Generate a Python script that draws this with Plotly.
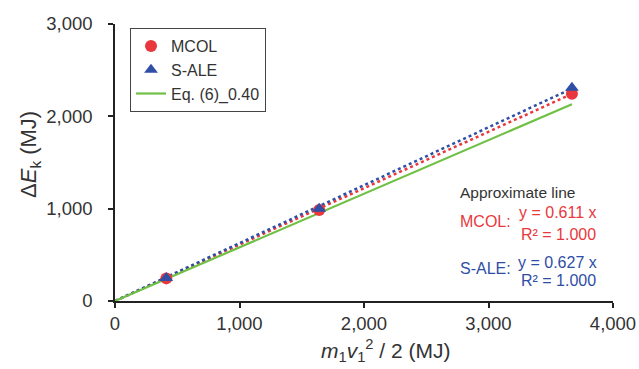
import plotly.graph_objects as go

# Data
x_vals = [412, 1640, 3670]            # m1 v1^2 / 2 (MJ)
mcol_y = [245, 985, 2245]             # ΔEk MCOL (MJ)
sale_y = [250, 1000, 2310]            # ΔEk S-ALE (MJ)
eq6_x = [0, 3670]
eq6_y = [0, 2132]                     # Eq. (6)_0.40
mcol_slope = 0.611
sale_slope = 0.627
fit_x = [0, 3670]
x_ticks = [0, 1000, 2000, 3000, 4000]
y_ticks = [0, 1000, 2000, 3000]

RED = "#e8383d"
BLUE = "#2f4ea6"
GREEN = "#70c045"
FONT = "Liberation Sans, Arial, sans-serif"

fig = go.Figure()

fig.add_trace(go.Scatter(x=fit_x, y=[mcol_slope * v for v in fit_x], mode="lines",
                         line=dict(color=RED, width=2.5, dash="dot"), showlegend=False,
                         hoverinfo="skip"))
fig.add_trace(go.Scatter(x=fit_x, y=[sale_slope * v for v in fit_x], mode="lines",
                         line=dict(color=BLUE, width=2.5, dash="dot"), showlegend=False,
                         hoverinfo="skip"))
fig.add_trace(go.Scatter(x=eq6_x, y=eq6_y, mode="lines", name="Eq. (6)_0.40",
                         line=dict(color=GREEN, width=2.2), legendrank=3))
fig.add_trace(go.Scatter(x=x_vals, y=mcol_y, mode="markers", name="MCOL",
                         marker=dict(symbol="circle", size=12, color=RED), legendrank=1))
fig.add_trace(go.Scatter(x=x_vals, y=sale_y, mode="markers", name="S-ALE",
                         marker=dict(symbol="triangle-up", size=12, color=BLUE), legendrank=2))

axis_common = dict(showgrid=False, zeroline=False, showline=True, linecolor="#222",
                   linewidth=1.5, ticks="outside", ticklen=5, tickwidth=1.5, tickcolor="#222",
                   tickformat=",d", ticklabeloverflow="allow", automargin=False,
                   tickfont=dict(family=FONT, size=18.5, color="#333"))

L, R, T, B, W, H = 115, 26, 24, 68, 639, 369

fig.update_layout(
    width=W, height=H,
    margin=dict(l=L, r=R, t=T, b=B, autoexpand=False),
    paper_bgcolor="white", plot_bgcolor="white",
    font=dict(family=FONT, color="#333"),
    xaxis=dict(range=[0, 4000], tickvals=x_ticks, **axis_common),
    yaxis=dict(range=[0, 3000], tickvals=y_ticks, ticklabelstandoff=12, **axis_common),
    legend=dict(x=(130 - L) / (W - L - R), y=(H - B - 28) / (H - T - B),
                xanchor="left", yanchor="top",
                bordercolor="#444", borderwidth=1, bgcolor="white",
                font=dict(family=FONT, size=16, color="#333"),
                traceorder="normal", tracegroupgap=0),
)

ann = []
ann.append(dict(text="Δ<i>E</i><sub>k</sub> (MJ)", x=30, y=155, textangle=-90,
                font=dict(family=FONT, size=22, color="#333")))
ann.append(dict(text="<i>m</i><sub>1</sub><i>v</i><sub>1</sub><sup>2</sup> / 2 (MJ)",
                x=386, y=350, font=dict(family=FONT, size=21, color="#333")))
ann.append(dict(text="Approximate line", x=458, y=192, xanchor="left",
                font=dict(family=FONT, size=15.5, color="#333")))
ann.append(dict(text="MCOL:", x=458, y=221, xanchor="left",
                font=dict(family=FONT, size=16, color=RED)))
ann.append(dict(text=f"y = {mcol_slope:.3f} x", x=599, y=213, xanchor="right",
                font=dict(family=FONT, size=16, color=RED)))
ann.append(dict(text="R² = 1.000", x=598, y=234, xanchor="right",
                font=dict(family=FONT, size=16, color=RED)))
ann.append(dict(text="S-ALE:", x=458, y=268, xanchor="left",
                font=dict(family=FONT, size=16, color=BLUE)))
ann.append(dict(text=f"y = {sale_slope:.3f} x", x=599, y=262, xanchor="right",
                font=dict(family=FONT, size=16, color=BLUE)))
ann.append(dict(text="R² = 1.000", x=598, y=280, xanchor="right",
                font=dict(family=FONT, size=16, color=BLUE)))

# convert pixel positions to paper coords
pw, ph = W - L - R, H - T - B
for a in ann:
    a["x"] = (a["x"] - L) / pw
    a["y"] = (H - B - a["y"]) / ph
    a["xref"] = "paper"
    a["yref"] = "paper"
    a["showarrow"] = False
    a.setdefault("xanchor", "center")
    a.setdefault("yanchor", "middle")
    fig.add_annotation(**a)

fig.write_html("out.html")
